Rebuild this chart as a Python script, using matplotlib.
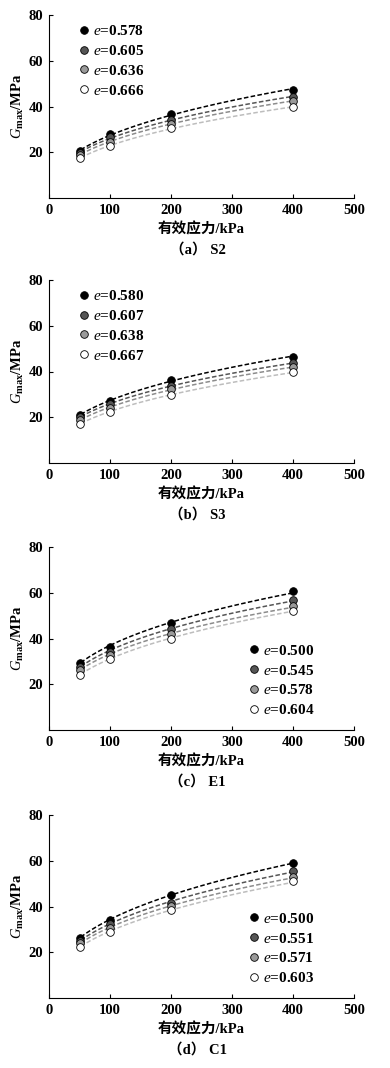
import matplotlib

matplotlib.use("Agg")

import matplotlib.pyplot as plt
import numpy as np

plt.rcParams["font.family"] = ["Liberation Serif", "Noto Sans CJK SC"]
plt.rcParams["font.weight"] = "bold"
plt.rcParams["mathtext.fontset"] = "custom"
plt.rcParams["mathtext.rm"] = "Liberation Serif:bold"
plt.rcParams["mathtext.it"] = "Liberation Serif:style=italic:weight=normal"

stress = [50, 100, 200, 400]

# (a) S2
e_s2 = ["0.578", "0.605", "0.636", "0.666"]
g_s2 = [
    [20.4, 27.9, 36.7, 47.1],
    [19.7, 26.5, 34.1, 44.1],
    [18.8, 24.6, 32.5, 42.4],
    [17.5, 22.6, 30.4, 39.9],
]

# (b) S3
e_s3 = ["0.580", "0.607", "0.638", "0.667"]
g_s3 = [
    [20.9, 27.3, 36.1, 46.5],
    [20.0, 25.8, 33.7, 43.7],
    [18.7, 24.2, 32.2, 41.9],
    [17.1, 22.2, 29.9, 39.7],
]

# (c) E1
e_e1 = ["0.500", "0.545", "0.578", "0.604"]
g_e1 = [
    [29.5, 36.2, 46.8, 60.6],
    [27.7, 34.3, 44.1, 56.9],
    [26.3, 32.9, 42.0, 54.0],
    [24.2, 30.9, 40.0, 52.2],
]

# (d) C1
e_c1 = ["0.500", "0.551", "0.571", "0.603"]
g_c1 = [
    [26.3, 34.2, 44.9, 59.1],
    [25.1, 32.2, 41.7, 55.7],
    [23.9, 30.6, 40.1, 52.9],
    [22.5, 28.7, 38.3, 51.0],
]

panels = [
    ("（a） S2", e_s2, g_s2, "upper left"),
    ("（b） S3", e_s3, g_s3, "upper left"),
    ("（c） E1", e_e1, g_e1, "lower right"),
    ("（d） C1", e_c1, g_c1, "lower right"),
]

marker_fc = ["black", "#555555", "#9a9a9a", "white"]
line_c = ["black", "#555555", "#8c8c8c", "#bdbdbd"]

fig = plt.figure(figsize=(3.9, 10.68), dpi=100)
H = 1068.0
tops = [15, 280, 547, 815]
ax_h = 183

for (caption, es, gs, loc), top in zip(panels, tops):
    ax = fig.add_axes([49 / 390, 1 - (top + ax_h) / H, 305 / 390, ax_h / H])
    xs = np.array(stress, dtype=float)
    xfit = np.linspace(52, 405, 100)
    for i, (e, g) in enumerate(zip(es, gs)):
        # power-law trend line fitted to the measured points
        b, a = np.polyfit(np.log(xs), np.log(g), 1)
        ax.plot(xfit, np.exp(a) * xfit ** b, ls=(0, (3, 1.5)), color=line_c[i], lw=1.1, zorder=2)
        ax.plot(xs, g, "o", ms=5.5, mfc=marker_fc[i], mec="black", mew=0.6, ls="none",
                label="$e$=" + e, zorder=3)
    ax.set_xlim(0, 500)
    ax.set_ylim(0, 80)
    ax.set_xticks([0, 100, 200, 300, 400, 500])
    ax.set_yticks([20, 40, 60, 80])
    ax.spines["top"].set_visible(False)
    ax.spines["right"].set_visible(False)
    ax.tick_params(direction="in", length=3, width=0.8, labelsize=10.5, pad=4)
    for lab in ax.get_xticklabels() + ax.get_yticklabels():
        lab.set_fontweight("bold")
    ax.set_xlabel("有效应力/kPa", fontsize=10.5, fontweight="bold", labelpad=4)
    ax.set_ylabel(r"$G_{\mathrm{max}}$/MPa", fontsize=10.5, fontweight="bold", labelpad=2)
    if loc == "upper left":
        ax.legend(loc="upper left", bbox_to_anchor=(0.06, 1.0), frameon=False,
                  fontsize=11, handletextpad=0.1, labelspacing=0.38,
                  handlelength=1.0, borderaxespad=0.2)
    else:
        ax.legend(loc="lower right", bbox_to_anchor=(0.9, 0.02), frameon=False,
                  fontsize=11, handletextpad=0.1, labelspacing=0.38,
                  handlelength=1.0, borderaxespad=0.2)
    pos = ax.get_position()
    fig.text(pos.x0 + pos.width / 2 - 0.01, pos.y0 - 52 / H, caption, ha="center",
             va="center", fontsize=10.5, fontweight="bold")

fig.savefig("out.png", dpi=100)
